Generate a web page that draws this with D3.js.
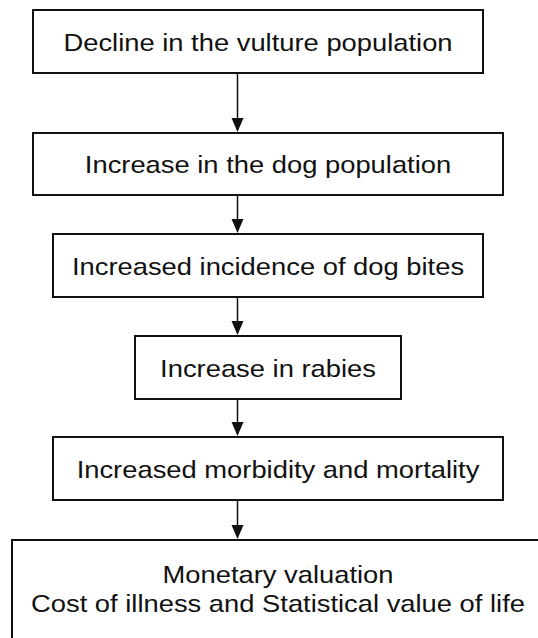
<!DOCTYPE html>
<html>
<head>
<meta charset="utf-8">
<script src="https://cdn.jsdelivr.net/npm/d3@7"></script>
<style>
  body { margin: 0; background: #fff; }
  svg { display: block; }
</style>
</head>
<body>
<div id="chart-area"></div>
<script>
let width = 538,
    height = 638;

// flow steps, top to bottom (each entry = lines of one box)
const steps = [
  ["Decline in the vulture population"],
  ["Increase in the dog population"],
  ["Increased incidence of dog bites"],
  ["Increase in rabies"],
  ["Increased morbidity and mortality"],
  ["Monetary valuation", "Cost of illness and Statistical value of life"]
];

// box layout in pixels: left, right, top, bottom
const boxLeft   = [33, 33, 53, 135, 53, 12];
const boxRight  = [483, 503, 483, 401, 503, 548];
const boxTop    = [10, 133, 234, 336, 437, 540];
const boxBottom = [73, 195, 297, 399, 500, 660];

const arrowX = 237.5;
const fontSize = 24;
const stretch = 1.14;   // glyphs in the original are drawn wide
const lineGap = 29;

const svg = d3.select("#chart-area")
  .append("svg")
  .attr("width", width)
  .attr("height", height);

const boxes = steps.map((lines, i) => ({
  lines,
  x0: boxLeft[i], x1: boxRight[i], y0: boxTop[i], y1: boxBottom[i]
}));

const links = d3.pairs(boxes);

// arrows between boxes
svg.append("g")
  .selectAll("line")
  .data(links)
  .join("line")
    .attr("x1", arrowX)
    .attr("x2", arrowX)
    .attr("y1", d => d[0].y1)
    .attr("y2", d => d[1].y0 - 12)
    .attr("stroke", "#111")
    .attr("stroke-width", 1.5);

svg.append("g")
  .selectAll("path")
  .data(links)
  .join("path")
    .attr("d", d => {
      const tip = d[1].y0 - 1;
      return `M${arrowX - 6},${tip - 14}L${arrowX + 6},${tip - 14}L${arrowX},${tip}Z`;
    })
    .attr("fill", "#111");

const g = svg.append("g")
  .selectAll("g")
  .data(boxes)
  .join("g");

g.append("rect")
  .attr("x", d => d.x0)
  .attr("y", d => d.y0)
  .attr("width", d => d.x1 - d.x0)
  .attr("height", d => d.y1 - d.y0)
  .attr("fill", "white")
  .attr("stroke", "#111")
  .attr("stroke-width", 2);

g.each(function(d) {
  // last box runs off the page, so its text is centred on the visible part
  const cx = d.lines.length > 1 ? (d.x0 + width) / 2 + 3 : (d.x0 + d.x1) / 2;
  // single line boxes: baseline a bit below the middle
  const cy = d.lines.length === 1 ? (d.y0 + d.y1) / 2 + 9 : d.y0 + 43;
  d3.select(this).selectAll("text")
    .data(d.lines)
    .join("text")
      .attr("transform", (t, j) => `translate(${cx},${cy + j * lineGap}) scale(${stretch},1)`)
      .attr("text-anchor", "middle")
      .attr("font-family", "'Liberation Sans', Arial, sans-serif")
      .attr("font-size", fontSize)
      .attr("fill", "#111")
      .text(t => t);
});
</script>
</body>
</html>
